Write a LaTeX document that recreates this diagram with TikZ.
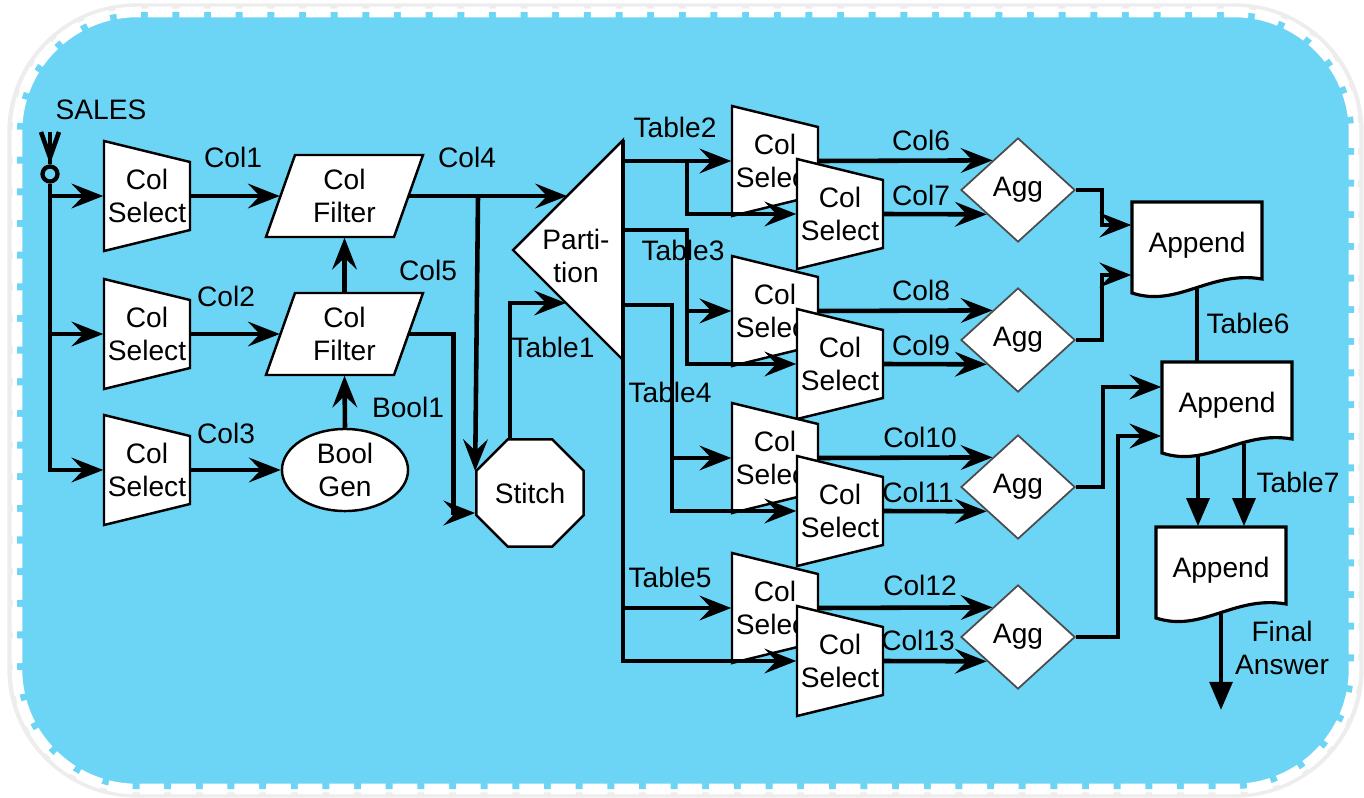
\documentclass[tikz,border=0pt]{standalone}
\usepackage{fontspec}
\setmainfont{Liberation Sans}
\usetikzlibrary{shapes,arrows.meta,positioning,calc}

\definecolor{skyfill}{RGB}{108,213,245}

\tikzset{
  wire/.style={line width=1.3pt},
  arr/.style={wire, -{Stealth[length=9pt, width=7pt, inset=3.3pt]}},
  arrt/.style={wire, -{Triangle[length=8pt, width=6.4pt]}},
  box/.style={draw, fill=white, line width=0.7pt},
  txt/.style={align=center, inner sep=0pt},
  agg/.style={diamond, draw=black!70, fill=white, line width=0.5pt, inner sep=0pt,
              minimum width=1.14cm, minimum height=1.04cm},
}

% Col Select: trapezoid, long side on the left
\newcommand{\selbox}[3]{%
  \filldraw[box] (#2-43,#3-55) -- (#2+43,#3-34) -- (#2+43,#3+34) -- (#2-43,#3+55) -- cycle;
  \node[txt, minimum width=0.86cm, minimum height=1.1cm] (#1) at (#2,#3) {Col\\Select};
}
% Col Filter: parallelogram
\newcommand{\filtbox}[3]{%
  \filldraw[box] (#2-49,#3-41) -- (#2+79,#3-41) -- (#2+50,#3+41) -- (#2-78,#3+41) -- cycle;
  \node[txt, minimum width=1.28cm, minimum height=0.82cm] (#1) at (#2+0.5,#3) {Col\\Filter};
}
% Append: document shape, #3 is the top edge
\newcommand{\appbox}[3]{%
  \filldraw[box, line width=0.9pt] (#2-65,#3) -- (#2+65,#3) -- (#2+65,#3+77)
    .. controls (#2+13,#3+68) and (#2-19,#3+106) .. (#2-65,#3+91) -- cycle;
  \node[txt, minimum width=1.3cm, minimum height=0.86cm] (#1) at (#2,#3+43) {Append};
}

\begin{document}
\begin{tikzpicture}[x=0.01cm, y=-0.01cm, every node/.style={font=\fontsize{8}{9.5}\selectfont}]
  \useasboundingbox (0,0) rectangle (1364,797);
  % backdrop
  \draw[black!7, line width=1.5pt, rounded corners=1.26cm] (10,6) rectangle (1361,795);
  \fill[skyfill, rounded corners=1.2cm] (17,12) rectangle (1354,789);
  \draw[white, line width=3pt, dash pattern=on 7pt off 2pt, rounded corners=1.2cm] (17,12) rectangle (1354,789);

  % input
  \node (sales) at (101,110) {SALES};
  \node[circle, draw, line width=1.2pt, inner sep=0pt, minimum size=0.15cm] (src) at (50,174) {};
  \coordinate (srcin) at (50,132);
  \draw[wire] (srcin) -- (src.north);
  \draw[wire] ($(srcin)+(-9,0)$) -- ($(src.north)+(0,-7)$) -- ($(srcin)+(9,0)$);

  % boxes
  \selbox{sel1}{147}{196}
  \selbox{sel2}{147}{334}
  \selbox{sel3}{147}{470}
  \filtbox{filt1}{344}{196}
  \filtbox{filt2}{344}{334}
  \node[box, txt, ellipse, minimum width=1.26cm, minimum height=0.82cm] (bool) at (345,470) {Bool\\Gen};
  \node[box, txt, regular polygon, regular polygon sides=8, minimum size=1.16cm] (stitch) at (530,493) {Stitch};

  \filldraw[box] (513,250) -- (623,140) -- (623,360) -- cycle;
  \node[txt] (part) at (576,256) {Parti-\\tion};
  \coordinate (ptop) at (623,140);
  \coordinate (pin1) at (567,196);
  \coordinate (pin2) at (566,303);

  \foreach \i/\y in {2/161, 3/311, 4/458, 5/608} {
    \selbox{sela\i}{775}{\y}
    \selbox{selb\i}{840}{\y+53}
  }
  \foreach \j/\y in {1/190, 2/340, 3/487, 4/637}
    \node[agg] (agg\j) at (1018,\y) {Agg};

  \appbox{app1}{1197}{202}
  \appbox{app2}{1227}{362}
  \appbox{app3}{1221}{527}
  \coordinate (answer) at (1221,710);

  % left half
  \draw[arr] (src.south) |- (sel3.west);
  \draw[arr] (src.south |- sel1.west) -- (sel1.west);
  \draw[arr] (src.south |- sel2.west) -- (sel2.west);
  \draw[arr] (sel1.east) -- (filt1.west);
  \draw[arr] (sel2.east) -- (filt2.west);
  \draw[arr] (sel3.east) -- (bool.west);
  \draw[arr] (bool.north) -- (filt2.south);
  \draw[arr] (filt2.north) -- (filt1.south);
  \draw[arr] (filt1.east) -- (pin1);
  \coordinate (split4) at (478,196);
  \draw[arr] (split4) -- ($(stitch.west)+(0,-22)$);
  \draw[arr] (filt2.east) -- ++(44,0) |- ($(stitch.west)+(0,20)$);
  \draw[arr] ($(stitch.north)+(-20,0)$) |- (pin2);

  % partition outputs
  \draw[arr] (ptop) |- (selb5.west);
  \draw[arr] (ptop |- sela5.west) -- (sela5.west);
  \draw[arr] (ptop |- sela2.west) -- (sela2.west);
  \coordinate (t2) at (687,161);
  \draw[arr] (t2) |- (selb2.west);
  \coordinate (t3) at (687,230);
  \draw[arr] (ptop |- t3) -- (t3) |- (selb3.west);
  \draw[arr] (t3 |- sela3.west) -- (sela3.west);
  \coordinate (t4) at (672,305);
  \draw[arr] (ptop |- t4) -- (t4) |- (selb4.west);
  \draw[arr] (t4 |- sela4.west) -- (sela4.west);

  % columns into Agg
  \foreach \i/\j in {2/1, 3/2, 4/3, 5/4} {
    \draw[arr] (sela\i.east) -- ($(agg\j.west)!.56!(agg\j.north)$);
    \draw[arr] (selb\i.east) -- ($(agg\j.west)!.46!(agg\j.south)$);
  }

  % right half
  \draw[arr] (agg1.east) -- ++(26,0) |- ($(app1.west)+(0,-20)$);
  \draw[arr] (agg2.east) -- ++(26,0) |- ($(app1.west)+(0,30)$);
  \draw[arr] (agg3.east) -- ++(27,0) |- ($(app2.west)+(0,-18)$);
  \draw[arr] (agg4.east) -- ++(42,0) |- ($(app2.west)+(0,31)$);
  \draw[wire] (app1.south) -- (app1.south |- app2.north);
  \draw[arrt] ($(app2.south)+(-29,7)$) coordinate (t7a) -- (t7a |- app3.north);
  \draw[arrt] ($(app2.south)+(17,-5)$) coordinate (t7b) -- (t7b |- app3.north);
  \draw[arrt] (app3.south) -- (answer);

  % labels
  \node (lcol1) at (233,157) {Col1};
  \node (lcol2) at (226,296) {Col2};
  \node (lcol3) at (226,433) {Col3};
  \node (lcol4) at (467,157) {Col4};
  \node (lcol5) at (428,270) {Col5};
  \node (lbool) at (408,407) {Bool1};
  \foreach \n/\x/\y in {6/921/140, 7/921/195, 8/921/290, 9/921/345,
                        10/920/437, 11/918/492, 12/920/585, 13/918/640}
    \node (lcol\n) at (\x,\y) {Col\n};
  \node (ltab1) at (553,347) {Table1};
  \node (ltab2) at (675,127) {Table2};
  \node (ltab3) at (683,250) {Table3};
  \node (ltab4) at (670,392) {Table4};
  \node (ltab5) at (670,577) {Table5};
  \node (ltab6) at (1248,323) {Table6};
  \node (ltab7) at (1298,482) {Table7};
  \node[txt] (lans) at (1282,648) {Final\\Answer};
\end{tikzpicture}
\end{document}
